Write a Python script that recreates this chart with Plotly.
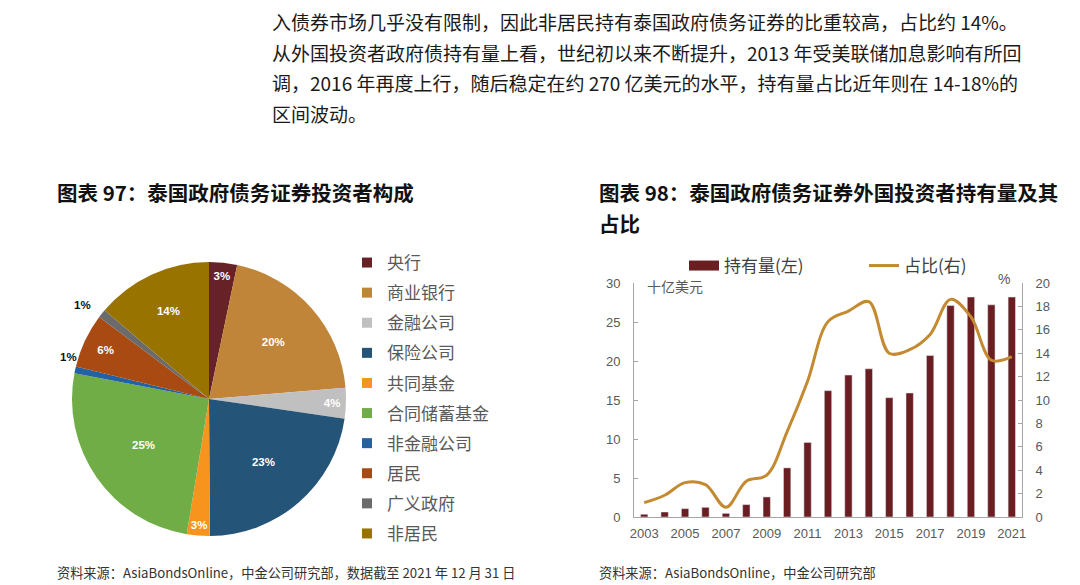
import plotly.graph_objects as go

# ---------------- data ----------------
pie_labels = ["央行", "商业银行", "金融公司", "保险公司", "共同基金",
              "合同储蓄基金", "非金融公司", "居民", "广义政府", "非居民"]
pie_values = [3.3, 20.4, 3.6, 22.6, 2.7, 25.4, 0.8, 6.4, 1.0, 13.8]
pie_colors = ["#662226", "#c1853a", "#c0c0c0", "#255479", "#f7941d",
              "#70ad47", "#2461a0", "#a84a12", "#6b6b6b", "#997300"]

years = list(range(2003, 2022))
holdings = [0.35, 0.64, 1.07, 1.24, 0.47, 1.59, 2.57, 6.3, 9.56, 16.2,
            18.2, 19.0, 15.3, 15.9, 20.7, 27.1, 28.2, 27.2, 28.2]
share = [1.23, 1.86, 2.94, 2.77, 0.83, 3.06, 3.57, 7.3, 11.6, 16.7,
         17.6, 18.4, 14.0, 14.3, 15.6, 18.6, 17.1, 13.4, 13.7]
x_ticks = list(range(2003, 2022, 2))

paragraph = [
    "入债券市场几乎没有限制，因此非居民持有泰国政府债务证券的比重较高，占比约 14%。",
    "从外国投资者政府债持有量上看，世纪初以来不断提升，2013 年受美联储加息影响有所回",
    "调，2016 年再度上行，随后稳定在约 270 亿美元的水平，持有量占比近年则在 14-18%的",
    "区间波动。",
]

W, H = 1080, 585
CJK = "Noto Sans CJK SC"
LAT = "Liberation Sans, Arial"
BAR_C = "#6a1e22"
LINE_C = "#c48a31"
AX_C = "#a6a6a6"
TXT_C = "#595959"

fig = go.Figure()

# ---------------- pie ----------------
small = [v < 1.5 for v in pie_values]
fig.add_trace(go.Pie(
    labels=pie_labels, values=pie_values, sort=False, direction="clockwise",
    rotation=0, marker=dict(colors=pie_colors, line=dict(width=0)),
    texttemplate="<b>%{percent:.0%}</b>",
    textposition=["none" if s else "inside" for s in small],
    insidetextorientation="horizontal",
    textfont=dict(family=LAT, size=11.5, color="white"),
    domain=dict(x=[72 / W, 346 / W], y=[49 / H, 323 / H]),
    showlegend=False, hoverinfo="label+percent",
))

# pie legend (legend2) via dummy traces
for lab, col in zip(pie_labels, pie_colors):
    fig.add_trace(go.Scatter(
        x=[None], y=[None], mode="markers", name=lab,
        marker=dict(symbol="square", size=10, color=col),
        legend="legend2", legendgroup=lab, xaxis="x", yaxis="y",
    ))

# ---------------- bar + line ----------------
fig.add_trace(go.Bar(
    x=years, y=holdings, marker_color=BAR_C, width=0.36,
    name="持有量(左)", showlegend=False, xaxis="x", yaxis="y",
))
fig.add_trace(go.Scatter(
    x=[None], y=[None], mode="lines", name="持有量(左)",
    line=dict(color=BAR_C, width=10), legend="legend", xaxis="x", yaxis="y",
))
fig.add_trace(go.Scatter(
    x=years, y=share, mode="lines", name="占比(右)",
    line=dict(color=LINE_C, width=3, shape="spline", smoothing=1.0),
    legend="legend", xaxis="x", yaxis="y2",
))

# ---------------- annotations ----------------
def txt(text, x, y, size, color, family=CJK, xanchor="left"):
    return dict(text=text, x=x / W, y=1 - y / H, xref="paper", yref="paper",
                xanchor=xanchor, yanchor="middle", showarrow=False,
                font=dict(family=family, size=size, color=color))

ann = []
for i, line in enumerate(paragraph):
    ann.append(txt(line, 270, 22 + i * 30.5, 19, "#1a1a1a"))
ann.append(txt("<b>图表 97：泰国政府债务证券投资者构成</b>", 55, 192, 20.5, "#111111"))
ann.append(txt("<b>图表 98：泰国政府债务证券外国投资者持有量及其</b>", 597, 192, 20.5, "#111111"))
ann.append(txt("<b>占比</b>", 597, 223, 20.5, "#111111"))
ann.append(txt("资料来源：AsiaBondsOnline，中金公司研究部，数据截至 2021 年 12 月 31 日",
               55, 572, 13.2, "#333333"))
ann.append(txt("资料来源：AsiaBondsOnline，中金公司研究部", 597, 572, 13.2, "#333333"))
# outside labels for tiny slices
ann.append(txt("<b>1%</b>", 82, 305, 11.5, "#111111", LAT, "center"))
ann.append(txt("<b>1%</b>", 68, 357, 11.5, "#111111", LAT, "center"))
# axis unit labels
ann.append(txt("十亿美元", 645, 286, 14, TXT_C))
ann.append(txt("%", 1004, 279, 14, TXT_C, LAT, "center"))

fig.update_layout(
    width=W, height=H, margin=dict(l=0, r=0, t=0, b=0, autoexpand=False),
    paper_bgcolor="white", plot_bgcolor="white",
    annotations=ann,
    xaxis=dict(domain=[634 / W, 1022 / W], range=[2002.5, 2021.5],
               tickvals=x_ticks, showgrid=False, zeroline=False,
               showline=True, linecolor=AX_C, linewidth=1, ticks="",
               tickfont=dict(family=LAT, size=13, color=TXT_C), ticklabelstandoff=4),
    yaxis=dict(domain=[1 - 517 / H, 1 - 283 / H], range=[0, 30], dtick=5,
               showgrid=False, zeroline=False, showline=True, linecolor=AX_C,
               ticks="inside", ticklen=4, tickcolor=AX_C,
               tickfont=dict(family=LAT, size=13, color=TXT_C), ticklabelstandoff=10),
    yaxis2=dict(overlaying="y", side="right", range=[0, 20], dtick=2,
                showgrid=False, zeroline=False, showline=True, linecolor=AX_C,
                ticks="inside", ticklen=4, tickcolor=AX_C, anchor="x",
                tickfont=dict(family=LAT, size=13, color=TXT_C), ticklabelstandoff=10),
    legend=dict(orientation="h", x=684 / W, y=1 - 248 / H, xanchor="left", yanchor="top",
                font=dict(family=CJK, size=17, color="#404040"),
                entrywidth=135, entrywidthmode="pixels",
                bgcolor="rgba(0,0,0,0)", itemwidth=30),
    legend2=dict(orientation="v", x=347 / W, y=1 - 245 / H, xanchor="left", yanchor="top",
                 font=dict(family=CJK, size=17, color=TXT_C),
                 tracegroupgap=5, bgcolor="rgba(0,0,0,0)", itemwidth=30),
)

fig.write_html("out.html")
